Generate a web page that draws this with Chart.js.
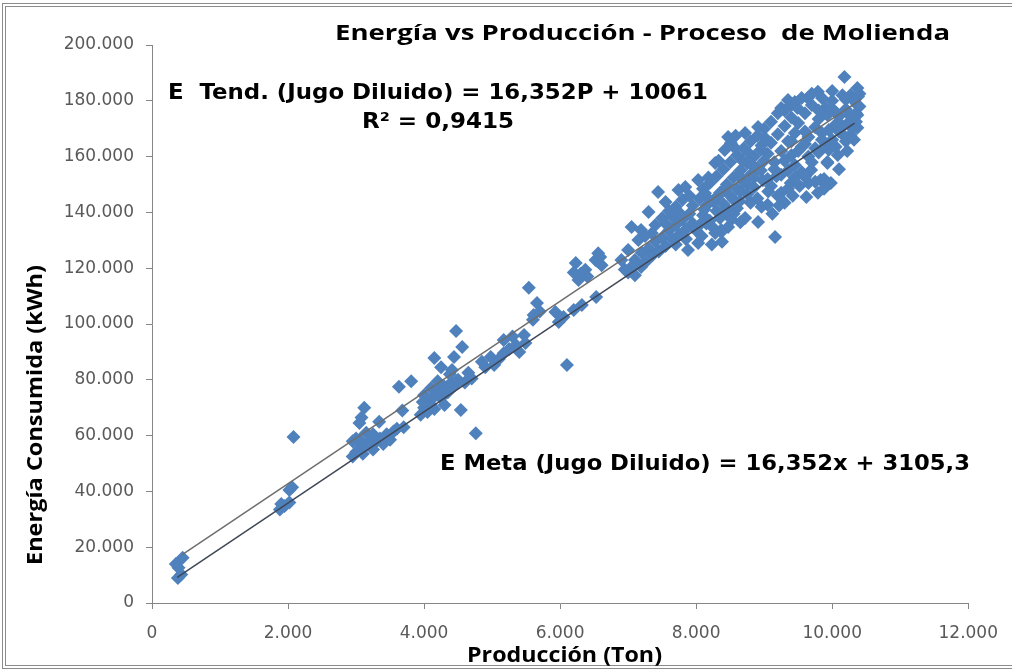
<!DOCTYPE html>
<html>
<head>
<meta charset="utf-8">
<script src="https://cdn.jsdelivr.net/npm/chart.js@4/dist/chart.umd.min.js"></script>
<style>
  html, body { margin: 0; padding: 0; background: #fff; }
  #wrap { position: relative; width: 1012px; height: 669px; overflow: hidden; }
  #marco { position: absolute; left: 2px; top: 3px; width: 1030px; height: 658px; border: 4px double #8c8c8c; }
  #grafico { position: absolute; left: 0; top: 0; }
</style>
</head>
<body>
<div id="wrap">
  <div id="marco"></div>
  <canvas id="grafico" width="1012" height="669"></canvas>
</div>
<script>
// tick labels (Excel style, punto de miles)
const ticksX = ['0', '2.000', '4.000', '6.000', '8.000', '10.000', '12.000']
const ticksY = ['0', '20.000', '40.000', '60.000', '80.000', '100.000', '120.000', '140.000', '160.000', '180.000', '200.000']

// [produccion (Ton), energia (kWh)]
const puntosBajos = [
  [380, 9000], [430, 10200], [390, 12600], [350, 14000], [450, 16200],
  [1880, 33500], [1950, 34800], [2020, 36000], [1900, 35500], [2060, 41500], [2020, 40500], [2080, 59500],
  [2950, 52500], [3000, 54000], [3050, 55500], [3100, 53500], [3150, 56500], [3200, 57500], [3250, 55000],
  [3300, 58000], [3350, 59000], [3400, 57000], [3450, 60500], [3500, 58500], [3050, 58500], [3000, 59000],
  [2950, 58000], [3150, 61000], [3250, 60500], [3550, 61500], [3600, 62500],
  [3120, 70000], [3080, 66500], [3340, 65000], [3680, 69000], [3630, 77500], [3810, 79500], [3700, 63000], [3050, 64500]
]

const puntosMedios = [
  [3950, 67500], [4000, 70000], [4050, 72500], [4100, 71000], [4150, 74000], [4200, 76000], [4250, 73500],
  [4300, 77500], [4350, 75500], [4400, 79000], [4450, 78000], [4500, 80000], [4100, 77000], [4200, 79500],
  [4000, 74500], [4050, 68500], [4300, 71000], [4150, 69500], [3980, 72000], [4380, 82000],
  [4150, 87800], [4470, 97500], [4560, 91800], [4440, 88200], [4410, 83500], [4250, 84500],
  [4540, 69200], [4760, 60800], [4600, 79000], [4700, 80500], [4650, 82500],
  [4900, 84500], [4980, 88200], [5030, 85300], [5100, 87500], [5170, 94300], [5170, 89500], [5250, 91000],
  [5350, 92500], [5470, 96100], [5490, 93200], [5400, 90000], [4850, 86500], [5300, 95500], [5600, 101500],
  [5540, 113000], [5660, 107500], [5610, 103200], [5700, 104500],
  [5930, 104300], [5980, 100700], [6050, 102500], [6100, 85300], [6200, 105000], [6320, 106800], [6530, 109700],
  [6230, 121900], [6370, 119400], [6590, 124000], [6270, 115800], [6610, 121100], [6300, 118000], [6400, 117000],
  [6200, 118500], [6550, 122500], [6520, 122900], [6560, 125400]
]

const puntos7a8 = [
  [6900, 122900], [7000, 126500], [7100, 122900], [7190, 120400], [7050, 134800], [7190, 133700], [7300, 140100],
  [7440, 147300], [7550, 143700], [7150, 130100], [7880, 126500], [8030, 129000], [7740, 148000], [7840, 149100],
  [8030, 151600], [8130, 146900], [7000, 118500], [7050, 120500], [7100, 117500], [6950, 119500], [7200, 125500],
  [7250, 122000], [7300, 127000], [7350, 124500], [7400, 129500], [7450, 126000], [7500, 131000], [7550, 128000],
  [7600, 133500], [7650, 130500], [7700, 135500], [7750, 132000], [7800, 137500], [7850, 134000], [7900, 139500],
  [7950, 136000], [7400, 135500], [7500, 138000], [7600, 140500], [7700, 142000], [7800, 144500], [7900, 146000],
  [7350, 132500], [7650, 138500], [7250, 131500], [7950, 142500], [7550, 136000], [7750, 140000], [7850, 130500],
  [7700, 128500], [8000, 133500]
]

const puntos8a9 = [
  [8050, 135500], [8100, 139000], [8150, 142500], [8200, 137000], [8250, 144000], [8300, 140500], [8350, 147000],
  [8400, 143000], [8450, 150000], [8500, 146000], [8550, 152500], [8600, 148500], [8650, 155000], [8700, 151000],
  [8750, 157500], [8800, 153500], [8850, 160000], [8900, 156000], [8950, 162500], [9000, 158500],
  [8050, 145000], [8100, 148500], [8150, 136000], [8200, 150500], [8250, 134500], [8300, 153000], [8350, 138000],
  [8400, 155500], [8450, 141500], [8500, 158000], [8550, 144500], [8600, 160500], [8650, 147500], [8700, 163000],
  [8750, 150000], [8800, 165500], [8850, 152500], [8900, 167500], [8950, 155000], [9000, 170000],
  [8280, 157700], [8420, 162400], [8510, 164900], [8470, 139800], [8370, 133700], [8280, 132600], [8470, 167000],
  [8570, 163100], [8910, 170600], [8910, 136600], [8720, 138000], [8470, 134800], [8370, 133000], [8600, 141500],
  [8800, 143500], [8650, 136500], [8900, 145000], [8750, 146500], [8550, 139500], [8850, 149000],
  [8120, 141000], [8180, 144800], [8320, 146000], [8430, 148800], [8620, 153200], [8680, 158500], [8780, 161000],
  [8830, 156800], [8960, 164000], [8980, 151500], [8080, 131500], [8230, 128500], [8380, 129500], [8180, 152500],
  [8330, 158500], [8580, 167500], [8720, 168500], [8640, 144000], [8520, 137500], [8960, 142000]
]

const puntos9a10 = [
  [9050, 142700], [9250, 147000], [9390, 150500], [9600, 152700], [9690, 155200], [9160, 131200], [9790, 147000],
  [9980, 150500], [9830, 151600], [9930, 157700], [10080, 160600], [9930, 158100],
  [10180, 188500], [10370, 184600], [10270, 182100], [9790, 183200], [9640, 181000], [9450, 179600], [9350, 180300],
  [9250, 177400], [9490, 177400], [9930, 174900], [10050, 176000], [10370, 178500], [10370, 174900], [10370, 170300],
  [10270, 167700],
  [9050, 161000], [9100, 165000], [9150, 158000], [9200, 168000], [9250, 162000], [9300, 171000], [9350, 165500],
  [9400, 174000], [9450, 168500], [9500, 172000], [9550, 163500], [9600, 175500], [9650, 167000], [9700, 178500],
  [9750, 170500], [9800, 173500], [9850, 166000], [9900, 177500], [9950, 169500], [10000, 180000], [10050, 171500],
  [10100, 174500], [10150, 168000], [10200, 177000], [10250, 172500], [10300, 180500], [10350, 175500], [10400, 182500],
  [9050, 152000], [9100, 149500], [9150, 155500], [9200, 146000], [9250, 153500], [9300, 158500], [9350, 155000],
  [9400, 160500], [9450, 157000], [9500, 162000], [9550, 154500], [9600, 164500], [9650, 160000], [9700, 158000],
  [9750, 163000], [9800, 161500], [9850, 168500], [9900, 164000], [9950, 162500], [10000, 166000], [10050, 163500],
  [10100, 169000], [10150, 171000], [10200, 165500], [10250, 175000], [10300, 170000], [10350, 172500], [10400, 178000],
  [9100, 172500], [9200, 175500], [9300, 176500], [9400, 178500], [9550, 181000], [9700, 182500], [9850, 181000],
  [10000, 183500], [10150, 182000], [9020, 166500], [9120, 139500], [9300, 143500], [9420, 146000], [9520, 149500],
  [9650, 150500], [9750, 151000], [9880, 152000], [10100, 155500], [10220, 162000], [10320, 166000], [9880, 148500],
  [9620, 145500], [9450, 152500], [9350, 148500], [9180, 153000], [9060, 147500], [9220, 142500], [9400, 165500],
  [9600, 169000], [9800, 176500], [10000, 177000], [10200, 180500], [10380, 181500]
]

// lineas: tendencia (16,352P + 10061) y meta (16,352x + 3105,3)
const lineaTendX = [450, 10420]
const lineaTendY = [17419, 180449]
const lineaMetaX = [370, 10330]
const lineaMetaY = [9156, 172021]

const puntos = [...puntosBajos, ...puntosMedios, ...puntos7a8, ...puntos8a9, ...puntos9a10]
  .map(p => ({ x: p[0], y: p[1] }))

const azul = '#4f81bd'
const gris = '#868686'
const tickFont = { family: 'DejaVu Sans', size: 17 }

// texto ajustado a un ancho fijo (las fuentes del original no estan)
function fitText(ctx, text, x, y, w, font) {
  ctx.save()
  ctx.font = font
  ctx.textAlign = 'left'
  ctx.textBaseline = 'alphabetic'
  const m = ctx.measureText(text).width
  ctx.translate(x, y)
  ctx.scale(w / m, 1)
  ctx.fillText(text, 0, 0)
  ctx.restore()
}

const textos = {
  id: 'textos',
  afterDraw(chart) {
    const ctx = chart.ctx
    ctx.fillStyle = '#000'
    fitText(ctx, 'Energía vs Producción - Proceso  de Molienda', 335, 40, 615, 'bold 22px "Open Sans"')
    fitText(ctx, 'E  Tend. (Jugo Diluido) = 16,352P + 10061', 168, 99, 540, 'bold 22px "DejaVu Sans"')
    fitText(ctx, 'R² = 0,9415', 362, 128, 152, 'bold 22px "DejaVu Sans"')
    fitText(ctx, 'E Meta (Jugo Diluido) = 16,352x + 3105,3', 440, 470, 530, 'bold 22px "DejaVu Sans"')
    fitText(ctx, 'Producción (Ton)', 467, 662, 195, 'bold 21px "Open Sans"')
    ctx.save()
    ctx.translate(42, 565)
    ctx.rotate(-Math.PI / 2)
    fitText(ctx, 'Energía Consumida (kWh)', 0, 0, 300, 'bold 21px "Open Sans"')
    ctx.restore()
  }
}

new Chart(document.getElementById('grafico'), {
  type: 'scatter',
  data: {
    datasets: [
      {
        label: 'Energía',
        data: puntos,
        pointStyle: 'rectRot',
        pointRadius: 7,
        pointBackgroundColor: azul,
        pointBorderColor: azul,
        pointBorderWidth: 0,
        order: 2
      },
      {
        label: 'E Tend.',
        data: lineaTendX.map((x, i) => ({ x, y: lineaTendY[i] })),
        showLine: true,
        borderColor: '#6e6e6e',
        borderWidth: 1.5,
        pointRadius: 0,
        order: 1
      },
      {
        label: 'E Meta',
        data: lineaMetaX.map((x, i) => ({ x, y: lineaMetaY[i] })),
        showLine: true,
        borderColor: '#3f4756',
        borderWidth: 1.5,
        pointRadius: 0,
        order: 1
      }
    ]
  },
  options: {
    responsive: false,
    animation: false,
    layout: { padding: { left: 0, top: 45, right: 41, bottom: 0 } },
    plugins: { legend: { display: false }, tooltip: { enabled: false }, title: { display: false } },
    scales: {
      x: {
        type: 'linear',
        min: 0,
        max: 12000,
        ticks: {
          stepSize: 2000,
          color: '#595959',
          font: tickFont,
          padding: 14,
          maxRotation: 0,
          callback: (v, i) => ticksX[i]
        },
        grid: { drawOnChartArea: false, drawTicks: true, tickLength: 6, color: gris },
        border: { color: gris, width: 1 },
        afterFit: s => { s.height = 66 }
      },
      y: {
        min: 0,
        max: 200000,
        ticks: {
          stepSize: 20000,
          color: '#595959',
          font: tickFont,
          padding: 12,
          callback: (v, i) => ticksY[i]
        },
        grid: { drawOnChartArea: false, drawTicks: true, tickLength: 6, color: gris },
        border: { color: gris, width: 1 },
        afterFit: s => { s.width = 152 }
      }
    }
  },
  plugins: [textos]
})
</script>
</body>
</html>
